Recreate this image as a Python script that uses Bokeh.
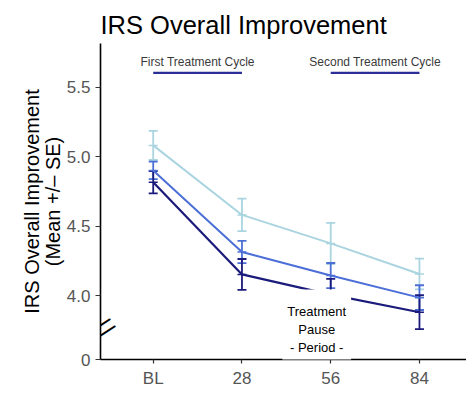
from bokeh.plotting import figure
from bokeh.models import ColumnDataSource, Whisker, TeeHead, Label, FixedTicker, Range1d
from bokeh.core.properties import value
from bokeh.embed import file_html
from bokeh.resources import INLINE
import math

# ---- data ----
days = ["BL", "28", "56", "84"]
day_pos = [0, 1, 2, 3]
light_mean = [5.08, 4.58, 4.375, 4.155]
light_se = [0.105, 0.117, 0.148, 0.11]
medium_mean = [4.90, 4.313, 4.144, 3.985]
medium_se = [0.063, 0.08, 0.09, 0.089]
dark_mean = [4.815, 4.152, 4.007, 3.88]
dark_se = [0.08, 0.111, 0.113, 0.122]

y_ticks = [4.0, 4.5, 5.0, 5.5]
y_floor = 3.54          # axis bottom, labelled "0" (broken axis)
break_at = 3.775        # position of the axis break marks

cycle_labels = ["First Treatment Cycle", "Second Treatment Cycle"]
cycle_start = [0, 2]
cycle_end = [1, 3]
cycle_y = 5.602
cycle_text_y = 5.678

FONT = "Liberation Sans"
LIGHT = "#a9d4e0"
MED = "#4b6fd6"
DARK = "#1b1b7c"
CYC = "#2c2e98"
X0 = -0.594

p = figure(width=466, height=408, output_backend="svg", toolbar_location=None,
           x_range=Range1d(X0, 3.53), y_range=Range1d(y_floor, 5.813),
           min_border_left=100, min_border_right=0, min_border_top=43, min_border_bottom=49)
p.outline_line_color = None
p.xgrid.visible = False
p.ygrid.visible = False
p.background_fill_color = "white"
p.border_fill_color = None

p.title.text = "IRS Overall Improvement"
p.title.align = "left"
p.title.text_font = FONT
p.title.text_font_size = "25.5px"
p.title.text_font_style = "normal"
p.title.text_color = "black"
p.title.standoff = 10

# axes
p.xaxis.ticker = FixedTicker(ticks=day_pos)
p.xaxis.major_label_overrides = {i: d for i, d in zip(day_pos, days)}
p.yaxis.ticker = FixedTicker(ticks=[y_floor] + y_ticks)
p.yaxis.major_label_overrides = {y_floor: "0", **{t: f"{t:.1f}" for t in y_ticks}}
for ax in (p.xaxis[0], p.yaxis[0]):
    ax.axis_line_color = "black"
    ax.axis_line_width = 1.6
    ax.major_tick_line_color = "#333333"
    ax.major_tick_line_width = 1.2
    ax.major_tick_in = 0
    ax.minor_tick_line_color = None
    ax.major_label_text_font = FONT
    ax.major_label_text_font_size = "17px"
    ax.major_label_text_color = "#555555"
p.xaxis.major_tick_out = 4
p.xaxis.major_label_standoff = 5
p.yaxis.major_tick_out = 5
p.yaxis.major_label_standoff = 5
p.yaxis.axis_label = "IRS Overall Improvement\n(Mean +/\u2013 SE)"
p.yaxis.axis_label_text_font = FONT
p.yaxis.axis_label_text_font_size = "20px"
p.yaxis.axis_label_text_font_style = "normal"
p.yaxis.axis_label_text_color = "black"
p.yaxis.axis_label_text_line_height = 0.95
p.yaxis.axis_label_standoff = 0

# series
for mean, se, col, lw in ((light_mean, light_se, LIGHT, 2.0),
                          (medium_mean, medium_se, MED, 2.0),
                          (dark_mean, dark_se, DARK, 2.2)):
    src = ColumnDataSource(dict(x=day_pos, y=mean,
                                upper=[m + s for m, s in zip(mean, se)],
                                lower=[m - s for m, s in zip(mean, se)]))
    p.line("x", "y", source=src, line_color=col, line_width=lw)
    p.scatter("x", "y", source=src, marker="dash", size=9, line_color=col, line_width=1.5)
    p.add_layout(Whisker(base="x", upper="upper", lower="lower", source=src,
                         line_color=col, line_width=1.8,
                         upper_head=TeeHead(size=9, line_color=col, line_width=1.8),
                         lower_head=TeeHead(size=9, line_color=col, line_width=1.8)))

# treatment cycle markers
p.segment(x0=cycle_start, y0=[cycle_y] * 2, x1=cycle_end, y1=[cycle_y] * 2,
          line_color=CYC, line_width=2.2)
p.text(x=[(a + b) / 2 for a, b in zip(cycle_start, cycle_end)], y=[cycle_text_y] * 2,
       text=cycle_labels, text_font=value(FONT), text_font_size="12px",
       text_color="#3a3a3a", text_align="center", text_baseline="alphabetic")

# axis break marks: two rotated strokes across the y axis
for k in (0, 1):
    p.add_layout(Label(x=X0, y=break_at, x_offset=-4.5 + 5 * k, y_offset=2 - 7 * k,
                       text="\u2014", angle=math.radians(33), text_align="center",
                       text_baseline="middle", text_font=FONT, text_font_size="30px",
                       text_color="black", level="overlay"))

# x axis title
p.add_layout(Label(x=1.49, y=3.262, text="Days", text_align="center",
                   text_baseline="alphabetic", text_font=FONT, text_font_size="20px",
                   text_color="black"))

# treatment pause box
p.add_layout(Label(x=2, y=3.753, x_offset=-14, text="Treatment\nPause\n- Period -",
                   text_align="center", text_baseline="middle", text_font=FONT,
                   text_font_size="13px", text_line_height=1.2, text_color="black",
                   background_fill_color="white", padding=(5, 15)))

open("out.html", "w").write(file_html(p, INLINE))
